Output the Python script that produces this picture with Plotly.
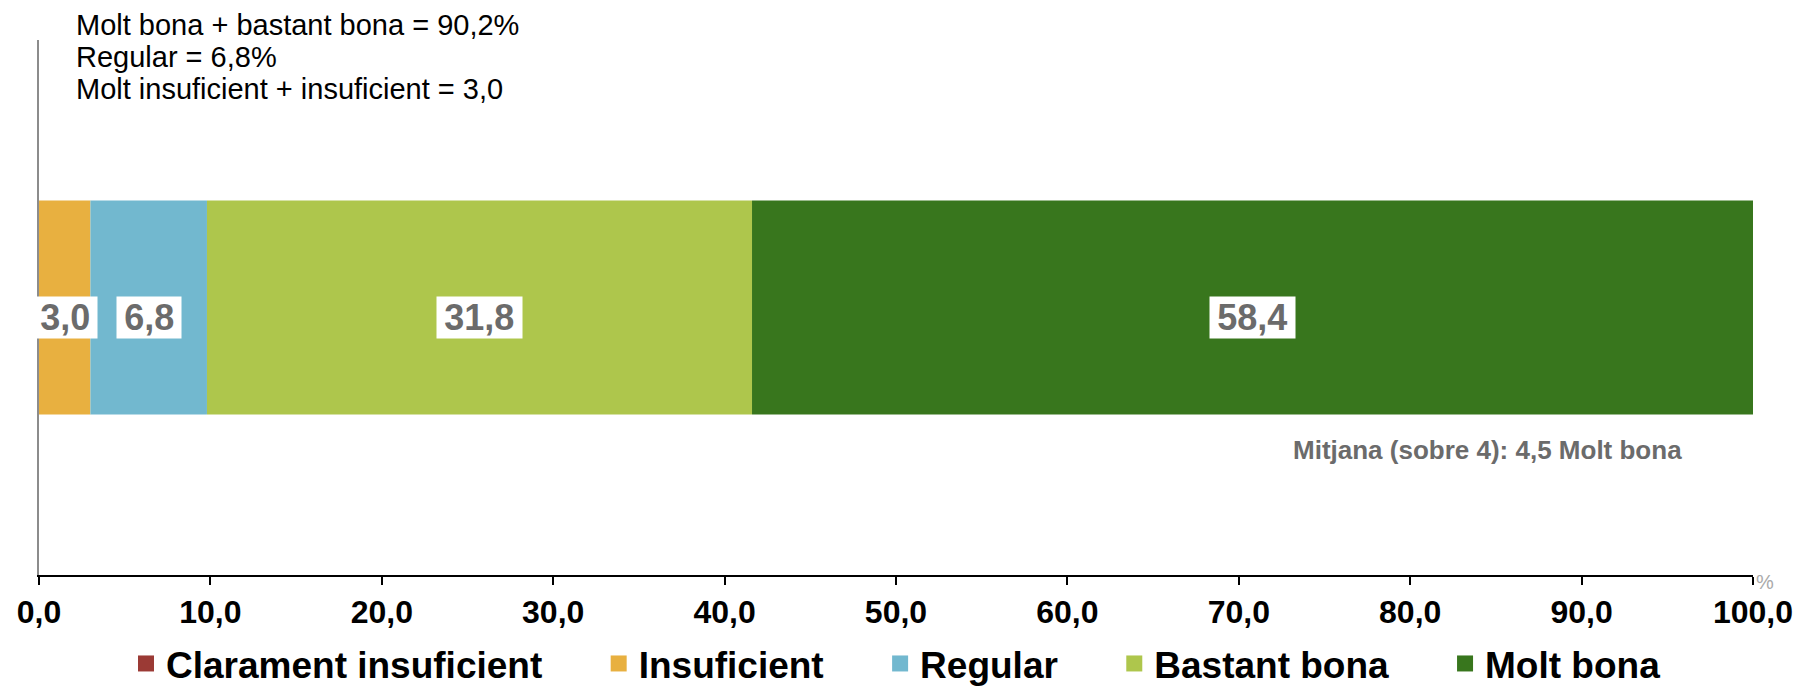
import plotly.graph_objects as go

# survey result (percent), one stacked bar
categories = ["Clarament insuficient", "Insuficient", "Regular", "Bastant bona", "Molt bona"]
values = [0.0, 3.0, 6.8, 31.8, 58.4]
colors = ["#9B3A35", "#E8B040", "#72B8CF", "#AEC64C", "#38761D"]
labels = ["", "3,0", "6,8", "31,8", "58,4"]
x_ticks = [0, 10, 20, 30, 40, 50, 60, 70, 80, 90, 100]

summary_lines = [
    "Molt bona + bastant bona = 90,2%",
    "Regular = 6,8%",
    "Molt insuficient + insuficient = 3,0",
]
mean_text = "Mitjana (sobre 4): 4,5 Molt bona"

FONT = "Liberation Sans, Arial, sans-serif"
GRAY_TXT = "#6b6b6b"
PAD = "\u00a0" * 5  # extra room between legend entries
THIN = "\u2009"

fig = go.Figure()

start = 0.0
for cat, val, col, lab in zip(categories, values, colors, labels):
    fig.add_trace(go.Bar(
        x=[val], y=[0], base=[start], orientation="h",
        marker=dict(color=col, line=dict(width=0)),
        width=0.8, showlegend=False, name=cat,
    ))
    if lab:
        fig.add_annotation(
            x=start + val / 2, y=0, xref="x", yref="y", yshift=-10,
            text="%s<b>%s</b>%s" % (THIN, lab, THIN), showarrow=False,
            font=dict(family=FONT, size=36, color=GRAY_TXT),
            bgcolor="white", borderpad=0,
        )
    start += val

# legend entries with bigger square swatches
for i, (cat, col) in enumerate(zip(categories, colors)):
    pad = PAD if i < len(categories) - 1 else ""
    fig.add_trace(go.Scatter(
        x=[None], y=[None], mode="markers", name="<b>%s</b>%s" % (cat, pad),
        marker=dict(symbol="square", size=18, color=col),
    ))

# summary text above the bar
for line, ypos in zip(summary_lines, [1.028, 0.969, 0.908]):
    fig.add_annotation(
        x=0.0204, y=ypos, xref="paper", yref="paper",
        text=line, showarrow=False, xanchor="left", yanchor="middle",
        font=dict(family=FONT, size=29, color="black"),
    )

fig.add_annotation(
    x=96.0, y=-0.533, xref="x", yref="y", text="<b>%s</b>" % mean_text,
    showarrow=False, xanchor="right", yanchor="middle",
    font=dict(family=FONT, size=26, color=GRAY_TXT),
)

fig.add_annotation(
    x=1, y=0, xref="paper", yref="paper", text="%", showarrow=False,
    xanchor="left", yanchor="middle", yshift=-7, xshift=1,
    font=dict(family=FONT, size=20, color="#aaaaaa"),
)

# page body keeps its default 8px margin, so size/margins are offset by 8
fig.update_layout(
    width=1793, height=679,
    margin=dict(l=31, r=48, t=32, b=112),
    plot_bgcolor="white", paper_bgcolor="white",
    barmode="overlay", separators=",.",
    xaxis=dict(
        range=[0, 100], tickvals=x_ticks, tickformat=".1f",
        showline=True, linecolor="black", linewidth=2,
        ticks="outside", ticklen=8, tickwidth=2, tickcolor="black",
        showgrid=False, zeroline=False, automargin=False,
        tickfont=dict(family=FONT, size=32, color="black", weight="bold"),
    ),
    yaxis=dict(
        range=[-1, 1], showticklabels=False, showgrid=False, zeroline=False,
        showline=True, linecolor="#8c8c8c", linewidth=2, automargin=False,
    ),
    legend=dict(
        orientation="h", x=0.5, xanchor="center",
        yref="container", y=0.034, yanchor="middle",
        font=dict(family=FONT, size=37, color="black"),
    ),
)

fig.write_html("out.html")
